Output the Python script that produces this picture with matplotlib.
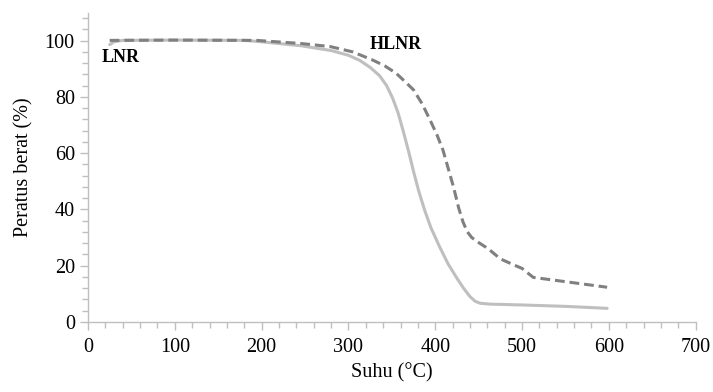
import numpy as np
import matplotlib
matplotlib.use("Agg")
import matplotlib.pyplot as plt
from matplotlib.ticker import MultipleLocator

plt.rcParams['font.family'] = ['Liberation Serif', 'DejaVu Serif']

# LNR (solid)
lnr_t = [25, 30, 40, 100, 180, 200, 245, 280, 300, 313, 325, 336, 344, 351, 357, 363, 369, 375, 381,
         388, 395, 405, 415, 425, 433, 440, 446, 452, 463, 500, 550, 598]
lnr_w = [98.6, 99.6, 100.1, 100.2, 100.1, 99.6, 98.2, 96.5, 94.8, 93.0, 90.5, 87.5, 84.0, 79.5, 74.5, 68.0, 61.0, 53.5, 46.5,
         39.5, 33.5, 26.7, 20.5, 15.5, 11.8, 9.0, 7.3, 6.6, 6.3, 6.0, 5.5, 4.8]

# HLNR (dashed)
hlnr_t = [25, 100, 194, 245, 279, 305, 328, 342, 355, 365, 375, 385, 394, 402, 409, 415, 421,
          427, 432, 437, 442, 450, 461, 475, 490, 500, 506, 513, 552, 598]
hlnr_w = [100.1, 100.2, 100.1, 99.0, 97.9, 96.0, 93.1, 91.0, 88.4, 85.5, 82.5, 77.5, 71.8, 66.5, 61.0, 54.5, 48.0,
          40.5, 35.5, 32.0, 30.0, 28.2, 26.0, 22.4, 20.3, 19.0, 17.5, 15.8, 14.2, 12.3]

fig = plt.figure(figsize=(7.13, 3.92), dpi=100)
ax = fig.add_axes([0.1234, 0.179, 0.8523, 0.789])

ax.plot(lnr_t, lnr_w, color='#bfbfbf', lw=2.2, solid_joinstyle='round', solid_capstyle='round')
ax.plot(hlnr_t, hlnr_w, color='#808080', lw=2.2, dashes=(3.2, 1.6), dash_joinstyle='round')

ax.text(16, 94, 'LNR', fontsize=13, fontweight='bold', va='center', ha='left')
ax.text(325, 98.5, 'HLNR', fontsize=13, fontweight='bold', va='center', ha='left')

ax.set_xlim(0, 700)
ax.set_ylim(0, 110)
ax.set_xticks(np.arange(0, 701, 100))
ax.set_yticks(np.arange(0, 101, 20))
ax.xaxis.set_minor_locator(MultipleLocator(20))
ax.yaxis.set_minor_locator(MultipleLocator(4))

for s in ['top', 'right']:
    ax.spines[s].set_visible(False)
for s in ['left', 'bottom']:
    ax.spines[s].set_color('#bfbfbf')
    ax.spines[s].set_linewidth(1.0)

ax.tick_params(which='major', colors='#bfbfbf', labelcolor='black', length=6, width=1, labelsize=14.5)
ax.tick_params(which='minor', colors='#bfbfbf', length=4, width=1)
ax.tick_params(axis='x', pad=6)

ax.set_xlabel('Suhu (°C)', fontsize=14.5, labelpad=4)
ax.set_ylabel('Peratus berat (%)', fontsize=14.5, labelpad=8)

fig.savefig('out.png', dpi=100)
